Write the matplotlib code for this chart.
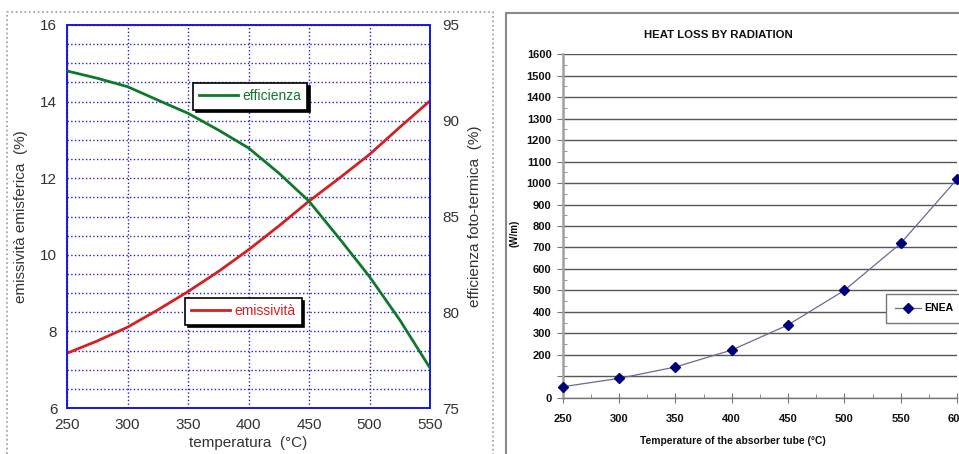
import matplotlib
matplotlib.use("Agg")
import matplotlib.pyplot as plt
from matplotlib.lines import Line2D
from matplotlib.patches import Rectangle
from matplotlib.ticker import MultipleLocator

plt.rcParams['font.family'] = ['Liberation Sans', 'DejaVu Sans']

# left chart: emissivity / photo-thermal efficiency vs temperature
temp = [250, 275, 300, 325, 350, 375, 400, 425, 450, 475, 500, 525, 550]
emissivita = [7.43, 7.75, 8.11, 8.56, 9.04, 9.56, 10.13, 10.75, 11.4, 12.0, 12.62, 13.33, 14.02]
efficienza = [92.6, 92.22, 91.78, 91.08, 90.39, 89.52, 88.58, 87.27, 85.8, 83.86, 81.86, 79.6, 77.09]

# right chart: heat loss by radiation
tube_temp = [250, 300, 350, 400, 450, 500, 550, 600]
heat_loss = [51, 90, 143, 222, 339, 500, 719, 1018]
heat_ticks = list(range(0, 1700, 100))
heat_labels = ['' if v == 100 else str(v) for v in heat_ticks]

W, H = 959, 454
fig = plt.figure(figsize=(W / 100, H / 100), dpi=100)

red = '#d42020'
green = '#10782a'
blue = '#1a1ae0'
txt = '#333333'

# panel borders
fig.patches.append(Rectangle((7 / W, -0.1), (493 - 7) / W, 1 - 12 / H + 0.1,
                             transform=fig.transFigure, fill=False,
                             edgecolor='#9a9a9a', lw=1.2, ls=':'))
fig.patches.append(Rectangle((506 / W, -0.1), 1, 1 - 13 / H + 0.1,
                             transform=fig.transFigure, fill=False,
                             edgecolor='#8a8a8a', lw=1.5))

# ---- left panel ----
ax1 = fig.add_axes([67 / W, 1 - 408 / H, 363 / W, 383 / H])
ax1.plot(temp, emissivita, color=red, lw=2, zorder=3)
ax1.set_xlim(250, 550)
ax1.set_ylim(6, 16)
ax1.set_xticks(range(250, 551, 50))
ax1.set_yticks(range(6, 17, 2))
ax1.yaxis.set_minor_locator(MultipleLocator(0.5))
ax1.grid(which='major', color='#2020c8', ls=':', lw=1)
ax1.grid(which='minor', axis='y', color='#2020c8', ls=':', lw=1)
ax1.tick_params(which='both', length=0, labelsize=11, labelcolor=txt, pad=7)
for s in ax1.spines.values():
    s.set_color(blue)
    s.set_linewidth(1.3)
ax1.set_xlabel('temperatura  (°C)', fontsize=11, color=txt, labelpad=3)
ax1.set_ylabel('emissività emisferica  (%)', fontsize=11, color=txt, labelpad=9)

ax2 = ax1.twinx()
ax2.plot(temp, efficienza, color=green, lw=2, zorder=3)
ax2.set_ylim(75, 95)
ax2.set_yticks(range(75, 96, 5))
ax2.tick_params(length=0, labelsize=11, labelcolor=txt, pad=9)
for s in ax2.spines.values():
    s.set_color(blue)
    s.set_linewidth(1.3)
ax2.set_ylabel('efficienza foto-termica  (%)', fontsize=11, color=txt, labelpad=6)

leg_kw = dict(loc='upper left', frameon=True, fancybox=False,
              shadow={'color': 'black', 'alpha': 1}, edgecolor='black',
              fontsize=10, handlelength=2.8, handletextpad=0.3, borderpad=0.45,
              framealpha=1, bbox_transform=fig.transFigure, borderaxespad=0)
leg1 = fig.legend(handles=[Line2D([], [], color=green, lw=2)], labels=['efficienza'],
                  bbox_to_anchor=(193 / W, 1 - 83 / H), labelcolor=green, **leg_kw)
leg1.get_frame().set_linewidth(1.2)
leg2 = fig.legend(handles=[Line2D([], [], color=red, lw=2)], labels=['emissività'],
                  bbox_to_anchor=(185 / W, 1 - 298 / H), labelcolor=red, **leg_kw)
leg2.get_frame().set_linewidth(1.2)

# ---- right panel ----
bold_font = ['Liberation Sans Narrow', 'Liberation Sans', 'DejaVu Sans']
ax3 = fig.add_axes([562.7 / W, 1 - 397.7 / H, 394.3 / W, 343.4 / H])
ax3.plot(tube_temp, heat_loss, color='#6a6a90', lw=0.9, marker='D', ms=5.5,
         mfc='#00007a', mec='#00007a', label='ENEA', clip_on=False, zorder=4)
ax3.set_xlim(250, 600)
ax3.set_ylim(0, 1600)
ax3.set_yticks(heat_ticks)
ax3.set_yticklabels(heat_labels)
ax3.yaxis.set_minor_locator(MultipleLocator(50))
ax3.set_xticks(range(250, 601, 50))
ax3.xaxis.set_minor_locator(MultipleLocator(25))
ax3.grid(which='major', axis='y', color='#555555', lw=1)
ax3.set_axisbelow(True)
for s in ['top', 'right']:
    ax3.spines[s].set_visible(False)
ax3.spines['left'].set_color('#a0a0a0')
ax3.spines['left'].set_linewidth(1.8)
ax3.spines['bottom'].set_color('#777777')
ax3.spines['bottom'].set_linewidth(1)
ax3.tick_params(axis='y', which='major', length=4, color='#777777', pad=4)
ax3.tick_params(axis='y', which='minor', direction='in', length=3, color='#888888')
ax3.tick_params(axis='x', which='major', direction='inout', length=7, color='#777777', pad=8)
ax3.tick_params(axis='x', which='minor', direction='in', length=3, color='#777777')
for lab in ax3.get_xticklabels() + ax3.get_yticklabels():
    lab.set_fontweight('bold')
    lab.set_fontsize(8)
    lab.set_family(bold_font)
    lab.set_color('#111111')

fig.text(718 / W, 1 - 35 / H, 'HEAT LOSS BY RADIATION', ha='center', va='center',
         fontsize=8.2, fontweight='bold', family=bold_font, color='#111111')
fig.text(515 / W, 1 - 233 / H, '(W/m)', ha='center', va='center', rotation=90,
         fontsize=7, fontweight='bold', family=bold_font, color='#111111')
fig.text(733 / W, 1 - 441 / H, 'Temperature of the absorber tube (°C)', ha='center',
         va='center', fontsize=7.4, fontweight='bold', family=bold_font, color='#111111')

leg3 = ax3.legend(loc='upper left', bbox_to_anchor=(886 / W, 1 - 294 / H),
                  bbox_transform=fig.transFigure, frameon=True, fancybox=False,
                  edgecolor='#777777', framealpha=1, borderpad=0.9,
                  handlelength=2.5, handletextpad=0.3, borderaxespad=0,
                  prop={'weight': 'bold', 'family': bold_font, 'size': 7.5})
leg3.get_frame().set_linewidth(1)

fig.savefig('out.png', dpi=100, facecolor='white')
